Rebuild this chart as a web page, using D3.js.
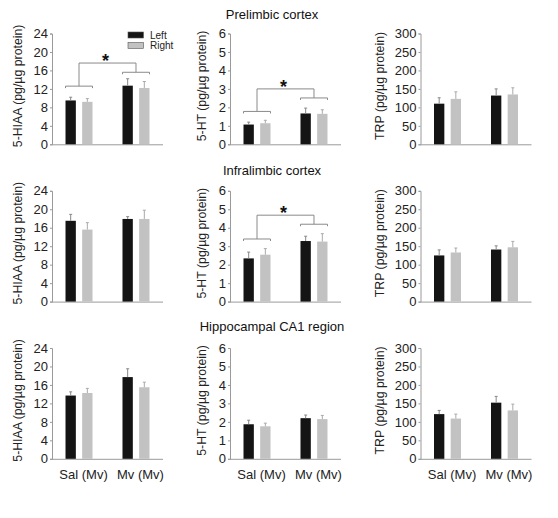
<!DOCTYPE html>
<html><head><meta charset="utf-8">
<script src="https://cdn.jsdelivr.net/npm/d3@7"></script>
<style>body{margin:0;background:#fff}svg{display:block}</style>
</head><body><svg id="c" width="558" height="518"></svg>
<script>
// ---------- data ----------
const regions = ["Prelimbic cortex", "Infralimbic cortex", "Hippocampal CA1 region"];
const groups = ["Sal (Mv)", "Mv (Mv)"];
const sides = ["Left", "Right"];
const measures = ["5-HIAA", "5-HT", "TRP"];
const yTitles = ["5-HIAA (pg/µg protein)", "5-HT (pg/µg protein)", "TRP (pg/µg protein)"];
const hiaaTicks = [0, 4, 8, 12, 16, 20, 24];
const htTicks = [0, 1, 2, 3, 4, 5, 6];
const trpTicks = [0, 50, 100, 150, 200, 250, 300];

// rows = regions, inner = groups [Sal (Mv), Mv (Mv)]
const hiaaLeft     = [[9.5, 12.7], [17.5, 17.9], [13.7, 17.7]];
const hiaaLeftErr  = [[0.7, 1.5], [1.4, 0.5], [0.8, 1.8]];
const hiaaRight    = [[9.2, 12.2], [15.6, 17.9], [14.25, 15.5]];
const hiaaRightErr = [[0.7, 1.4], [1.5, 1.9], [1.0, 1.1]];

const htLeft     = [[1.07, 1.67], [2.34, 3.28], [1.87, 2.2]];
const htLeftErr  = [[0.13, 0.29], [0.34, 0.26], [0.22, 0.17]];
const htRight    = [[1.14, 1.65], [2.54, 3.25], [1.76, 2.15]];
const htRightErr = [[0.16, 0.22], [0.33, 0.43], [0.17, 0.2]];

const trpLeft     = [[110, 132], [125, 141], [121, 152]];
const trpLeftErr  = [[16, 18], [15, 10], [10, 17]];
const trpRight    = [[123, 135], [133, 147], [109, 131]];
const trpRightErr = [[19, 18], [12, 16], [12, 17]];

// significance brackets: [region, measure, left level, right level, top level]
const sigBrackets = [
  [0, 0, 12.6, 15.6, 17.6],
  [0, 1, 1.78, 2.51, 3.0],
  [1, 1, 3.39, 4.19, 4.68]
];

// ---------- layout ----------
const svg = d3.select("#c");
const FONT = "'Liberation Sans', Arial, Helvetica, sans-serif";
const colX = [52, 230, 420.5];
const rowTop = [33.5, 190.8, 348];
const plotH = 110.8, plotW = 111;
const yTitleOff = [30, 24, 37];
const titleY = [18.5, 175, 331];
const colors = {Left: "#141414", Right: "#c2c2c2"};

const measureInfo = [
  {ticks: hiaaTicks, L: hiaaLeft, LE: hiaaLeftErr, R: hiaaRight, RE: hiaaRightErr},
  {ticks: htTicks, L: htLeft, LE: htLeftErr, R: htRight, RE: htRightErr},
  {ticks: trpTicks, L: trpLeft, LE: trpLeftErr, R: trpRight, RE: trpRightErr}
];

const x0 = d3.scalePoint().domain(groups).range([0, plotW]).padding(0.474);
const x1 = d3.scaleBand().domain(sides).range([-13.5, 13.5]).paddingInner(0.38);

// row titles
regions.forEach((r, ri) => {
  svg.append("text").attr("x", 272).attr("y", titleY[ri])
    .attr("text-anchor", "middle").attr("font-family", FONT)
    .attr("font-size", 13).attr("fill", "#111").text(r);
});

regions.forEach((region, ri) => {
  measures.forEach((m, mi) => {
    const info = measureInfo[mi];
    const g = svg.append("g").attr("transform", `translate(${colX[mi]},${rowTop[ri]})`);
    const y = d3.scaleLinear().domain([0, d3.max(info.ticks)]).range([plotH, 0]);

    // y axis
    const ya = g.append("g").call(d3.axisLeft(y).tickValues(info.ticks).tickSize(2).tickPadding(2).tickFormat(d3.format("d")));
    ya.selectAll("path,line").attr("stroke", "#9a9a9a");
    ya.selectAll("text").attr("font-family", FONT).attr("font-size", 13).attr("fill", "#222");

    // x axis
    const xa = g.append("g").attr("transform", `translate(0,${plotH})`)
      .call(d3.axisBottom(x0).tickSize(0).tickPadding(9).tickSizeOuter(0));
    xa.select("path").attr("d", `M0,0.5H${plotW}`).attr("stroke", "#9a9a9a");
    xa.selectAll("text").attr("font-family", FONT).attr("font-size", 13).attr("fill", "#222")
      .attr("dx", 4).attr("dy", "0.9em")
      .style("display", ri === 2 ? null : "none");

    // y title
    g.append("text")
      .attr("transform", `translate(${-yTitleOff[mi]},${plotH / 2 - 3}) rotate(-90)`)
      .attr("text-anchor", "middle").attr("font-family", FONT)
      .attr("font-size", 12.3).attr("fill", "#222").text(yTitles[mi]);

    // bars
    const rows = [];
    groups.forEach((grp, gi) => {
      rows.push({grp, side: "Left", v: info.L[ri][gi], e: info.LE[ri][gi]});
      rows.push({grp, side: "Right", v: info.R[ri][gi], e: info.RE[ri][gi]});
    });
    const bx = d => x0(d.grp) + x1(d.side);
    g.selectAll("rect.bar").data(rows).join("rect").attr("class", "bar")
      .attr("x", bx).attr("width", x1.bandwidth())
      .attr("y", d => y(d.v)).attr("height", d => plotH - y(d.v))
      .attr("fill", d => colors[d.side]);
    // error bars (upper only)
    g.selectAll("path.err").data(rows).join("path").attr("class", "err")
      .attr("d", d => {
        const cx = bx(d) + x1.bandwidth() / 2;
        return `M${cx},${y(d.v)}V${y(d.v + d.e)}M${cx - 1.5},${y(d.v + d.e)}H${cx + 1.5}`;
      })
      .attr("stroke", d => d.side === "Left" ? "#888" : "#aaa").attr("stroke-width", 1).attr("fill", "none");

    // significance
    sigBrackets.filter(s => s[0] === ri && s[1] === mi).forEach(s => {
      const gx = groups.map(grp => ({
        a: x0(grp) + x1("Left"), b: x0(grp) + x1("Right") + x1.bandwidth(), c: x0(grp)
      }));
      const lvl = [y(s[2]), y(s[3])];
      const top = y(s[4]);
      let dstr = "";
      gx.forEach((p, i) => {
        dstr += `M${p.a},${lvl[i] + 2}V${lvl[i]}H${p.b}V${lvl[i] + 2}`;
        dstr += `M${p.c},${lvl[i]}V${top}`;
      });
      dstr += `M${gx[0].c},${top}H${gx[1].c}`;
      g.append("path").attr("d", dstr).attr("stroke", "#8a8a8a").attr("stroke-width", 1).attr("fill", "none");
      g.append("text").attr("x", (gx[0].c + gx[1].c) / 2 - 2).attr("y", top + 4)
        .attr("text-anchor", "middle").attr("font-family", FONT).attr("font-weight", "bold")
        .attr("font-size", 18).attr("fill", "#111").text("*");
    });

    // legend in the first panel
    if (ri === 0 && mi === 0) {
      const lg = g.append("g").attr("transform", "translate(76,-1.5)");
      sides.forEach((s, si) => {
        lg.append("rect").attr("x", 0).attr("y", si * 10.5).attr("width", 15.5).attr("height", 6)
          .attr("fill", colors[s]).attr("stroke", "#555").attr("stroke-width", 0.6);
        lg.append("text").attr("x", 22).attr("y", si * 10.5 + 6.5)
          .attr("font-family", FONT).attr("font-size", 10).attr("fill", "#222").text(s);
      });
    }
  });
});
</script></body></html>
